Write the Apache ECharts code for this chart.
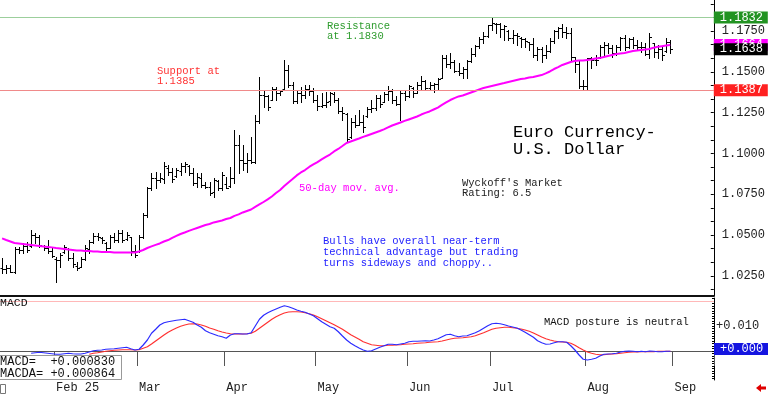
<!DOCTYPE html>
<html><head><meta charset="utf-8">
<script src="https://cdn.jsdelivr.net/npm/echarts@6/dist/echarts.min.js"></script>
<style>html,body{margin:0;padding:0;background:#fff}#c{width:768px;height:396px}</style>
</head><body><div id="c"></div>
<script>
const dates = [
'2025-01-15','2025-01-16','2025-01-17','2025-01-20','2025-01-21','2025-01-22','2025-01-23','2025-01-24','2025-01-27','2025-01-28','2025-01-29','2025-01-30','2025-01-31',
'2025-02-03','2025-02-04','2025-02-05','2025-02-06','2025-02-07','2025-02-10','2025-02-11','2025-02-12','2025-02-13','2025-02-14','2025-02-17','2025-02-18','2025-02-19','2025-02-20','2025-02-21','2025-02-24','2025-02-25','2025-02-26','2025-02-27','2025-02-28',
'2025-03-03','2025-03-04','2025-03-05','2025-03-06','2025-03-07','2025-03-10','2025-03-11','2025-03-12','2025-03-13','2025-03-14','2025-03-17','2025-03-18','2025-03-19','2025-03-20','2025-03-21','2025-03-24','2025-03-25','2025-03-26','2025-03-27','2025-03-28','2025-03-31',
'2025-04-01','2025-04-02','2025-04-03','2025-04-04','2025-04-07','2025-04-08','2025-04-09','2025-04-10','2025-04-11','2025-04-14','2025-04-15','2025-04-16','2025-04-17','2025-04-18','2025-04-21','2025-04-22','2025-04-23','2025-04-24','2025-04-25','2025-04-28','2025-04-29','2025-04-30',
'2025-05-01','2025-05-02','2025-05-05','2025-05-06','2025-05-07','2025-05-08','2025-05-09','2025-05-12','2025-05-13','2025-05-14','2025-05-15','2025-05-16','2025-05-19','2025-05-20','2025-05-21','2025-05-22','2025-05-23','2025-05-26','2025-05-27','2025-05-28','2025-05-29','2025-05-30',
'2025-06-02','2025-06-03','2025-06-04','2025-06-05','2025-06-06','2025-06-09','2025-06-10','2025-06-11','2025-06-12','2025-06-13','2025-06-16','2025-06-17','2025-06-18','2025-06-20','2025-06-23','2025-06-24','2025-06-25','2025-06-26','2025-06-27','2025-06-30',
'2025-07-01','2025-07-02','2025-07-03','2025-07-04','2025-07-07','2025-07-08','2025-07-09','2025-07-10','2025-07-11','2025-07-14','2025-07-15','2025-07-16','2025-07-17','2025-07-18','2025-07-21','2025-07-22','2025-07-23','2025-07-24','2025-07-25','2025-07-28','2025-07-29','2025-07-30','2025-07-31',
'2025-08-01','2025-08-04','2025-08-05','2025-08-06','2025-08-07','2025-08-08','2025-08-11','2025-08-12','2025-08-13','2025-08-14','2025-08-15','2025-08-18','2025-08-19','2025-08-20','2025-08-21','2025-08-22','2025-08-25','2025-08-26','2025-08-27','2025-08-28','2025-08-29',
'2025-09-01','2025-09-02','2025-09-03','2025-09-04','2025-09-05','2025-09-08','2025-09-09','2025-09-10','2025-09-11','2025-09-12'];

const monthLabels = {'02':'Feb 25','03':'Mar','04':'Apr','05':'May','06':'Jun','07':'Jul','08':'Aug','09':'Sep'};

const opens = [
1.0300,1.0290,1.0300,1.0275,1.0415,1.0405,1.0430,1.0430,1.0500,1.0490,
1.0430,1.0420,1.0400,1.0350,1.0345,1.0395,1.0415,1.0360,1.0310,1.0305,
1.0355,1.0415,1.0455,1.0495,1.0480,1.0450,1.0420,1.0490,1.0470,1.0510,
1.0475,1.0485,1.0400,1.0400,1.0485,1.0620,1.0785,1.0850,1.0835,1.0840,
1.0910,1.0885,1.0860,1.0890,1.0920,1.0920,1.0880,1.0820,1.0850,1.0805,
1.0795,1.0765,1.0830,1.0790,1.0815,1.0800,1.0850,1.1050,1.0960,1.0940,
1.0960,1.0950,1.1200,1.1360,1.1350,1.1330,1.1395,1.1370,1.1395,1.1510,
1.1420,1.1320,1.1370,1.1360,1.1395,1.1380,1.1330,1.1290,1.1295,1.1320,
1.1365,1.1330,1.1260,1.1240,1.1100,1.1190,1.1175,1.1190,1.1230,1.1270,
1.1280,1.1340,1.1315,1.1365,1.1385,1.1325,1.1300,1.1370,1.1350,1.1400,
1.1370,1.1420,1.1445,1.1400,1.1420,1.1425,1.1465,1.1585,1.1550,1.1560,
1.1505,1.1490,1.1520,1.1565,1.1610,1.1660,1.1700,1.1720,1.1785,1.1795,
1.1790,1.1760,1.1750,1.1710,1.1725,1.1710,1.1700,1.1680,1.1670,1.1600,
1.1640,1.1600,1.1625,1.1690,1.1750,1.1770,1.1745,1.1740,1.1590,1.1550,
1.1410,1.1415,1.1585,1.1570,1.1590,1.1655,1.1665,1.1645,1.1615,1.1650,
1.1705,1.1650,1.1700,1.1665,1.1650,1.1650,1.1610,1.1675,1.1620,1.1640,
1.1625,1.1680];
const highs = [
1.0359,1.0316,1.0316,1.0427,1.0427,1.0451,1.0457,1.0531,1.0512,1.0500,
1.0439,1.0469,1.0427,1.0365,1.0390,1.0439,1.0420,1.0390,1.0335,1.0365,
1.0439,1.0469,1.0512,1.0512,1.0488,1.0457,1.0500,1.0512,1.0531,1.0531,
1.0518,1.0488,1.0439,1.0500,1.0635,1.0794,1.0880,1.0886,1.0880,1.0947,
1.0929,1.0911,1.0911,1.0941,1.0947,1.0929,1.0911,1.0880,1.0880,1.0825,
1.0825,1.0849,1.0837,1.0886,1.0856,1.0917,1.1143,1.1113,1.1052,1.1003,
1.1101,1.1235,1.1468,1.1389,1.1358,1.1407,1.1407,1.1389,1.1572,1.1542,
1.1438,1.1389,1.1407,1.1419,1.1419,1.1401,1.1358,1.1370,1.1376,1.1376,
1.1376,1.1340,1.1284,1.1248,1.1217,1.1235,1.1266,1.1235,1.1284,1.1327,
1.1358,1.1358,1.1376,1.1413,1.1395,1.1352,1.1389,1.1389,1.1419,1.1407,
1.1438,1.1474,1.1450,1.1438,1.1431,1.1462,1.1603,1.1603,1.1615,1.1572,
1.1554,1.1529,1.1572,1.1646,1.1664,1.1713,1.1744,1.1787,1.1830,1.1799,
1.1799,1.1787,1.1756,1.1756,1.1738,1.1713,1.1707,1.1683,1.1707,1.1652,
1.1652,1.1664,1.1707,1.1756,1.1775,1.1793,1.1775,1.1768,1.1591,1.1572,
1.1450,1.1585,1.1591,1.1603,1.1664,1.1683,1.1677,1.1664,1.1664,1.1713,
1.1726,1.1707,1.1713,1.1695,1.1683,1.1677,1.1738,1.1677,1.1664,1.1652,
1.1707,1.1695];
const lows = [
1.0267,1.0267,1.0273,1.0267,1.0390,1.0390,1.0396,1.0427,1.0451,1.0427,
1.0408,1.0390,1.0365,1.0212,1.0304,1.0390,1.0347,1.0304,1.0286,1.0304,
1.0347,1.0390,1.0451,1.0469,1.0451,1.0408,1.0420,1.0457,1.0457,1.0457,
1.0469,1.0378,1.0365,1.0396,1.0482,1.0610,1.0776,1.0788,1.0825,1.0819,
1.0868,1.0825,1.0856,1.0868,1.0886,1.0868,1.0806,1.0794,1.0794,1.0788,
1.0745,1.0733,1.0776,1.0776,1.0788,1.0794,1.0819,1.0880,1.0898,1.0886,
1.0941,1.0941,1.1186,1.1284,1.1266,1.1327,1.1327,1.1358,1.1389,1.1407,
1.1309,1.1309,1.1315,1.1340,1.1358,1.1315,1.1266,1.1284,1.1284,1.1297,
1.1315,1.1248,1.1205,1.1070,1.1094,1.1162,1.1174,1.1131,1.1223,1.1254,
1.1266,1.1284,1.1315,1.1327,1.1309,1.1297,1.1205,1.1327,1.1346,1.1346,
1.1370,1.1389,1.1389,1.1389,1.1376,1.1389,1.1462,1.1529,1.1523,1.1499,
1.1480,1.1462,1.1462,1.1560,1.1597,1.1646,1.1677,1.1713,1.1756,1.1738,
1.1713,1.1695,1.1695,1.1677,1.1664,1.1652,1.1652,1.1634,1.1591,1.1572,
1.1560,1.1585,1.1621,1.1677,1.1707,1.1713,1.1707,1.1572,1.1499,1.1401,
1.1389,1.1389,1.1523,1.1542,1.1585,1.1603,1.1615,1.1591,1.1603,1.1634,
1.1634,1.1646,1.1646,1.1634,1.1621,1.1603,1.1585,1.1591,1.1585,1.1572,
1.1621,1.1615];
const closes = [
1.0290,1.0300,1.0275,1.0415,1.0405,1.0435,1.0410,1.0500,1.0490,1.0440,
1.0420,1.0400,1.0370,1.0345,1.0375,1.0425,1.0360,1.0320,1.0300,1.0355,
1.0420,1.0455,1.0495,1.0485,1.0470,1.0420,1.0490,1.0470,1.0510,1.0470,
1.0500,1.0400,1.0375,1.0485,1.0620,1.0785,1.0850,1.0835,1.0850,1.0920,
1.0885,1.0840,1.0900,1.0920,1.0935,1.0880,1.0820,1.0855,1.0805,1.0795,
1.0760,1.0835,1.0790,1.0870,1.0790,1.0850,1.1050,1.0960,1.0940,1.0960,
1.0950,1.1200,1.1360,1.1350,1.1285,1.1395,1.1370,1.1380,1.1510,1.1420,
1.1320,1.1370,1.1355,1.1395,1.1380,1.1330,1.1290,1.1295,1.1315,1.1370,
1.1330,1.1260,1.1250,1.1090,1.1190,1.1175,1.1190,1.1160,1.1270,1.1280,
1.1340,1.1300,1.1365,1.1385,1.1325,1.1300,1.1370,1.1350,1.1410,1.1370,
1.1420,1.1445,1.1400,1.1420,1.1425,1.1455,1.1585,1.1550,1.1560,1.1505,
1.1490,1.1520,1.1565,1.1610,1.1660,1.1700,1.1720,1.1785,1.1800,1.1790,
1.1760,1.1780,1.1710,1.1725,1.1720,1.1700,1.1690,1.1670,1.1600,1.1640,
1.1600,1.1625,1.1690,1.1750,1.1770,1.1745,1.1740,1.1590,1.1550,1.1410,
1.1415,1.1585,1.1570,1.1575,1.1655,1.1665,1.1645,1.1615,1.1650,1.1705,
1.1650,1.1700,1.1665,1.1650,1.1650,1.1610,1.1715,1.1620,1.1640,1.1600,
1.1680,1.1638];

const ma50 = [
1.0479,1.0469,1.0460,1.0451,1.0448,1.0445,1.0442,1.0439,1.0436,1.0433,
1.0430,1.0427,1.0424,1.0420,1.0417,1.0414,1.0411,1.0408,1.0405,1.0405,
1.0402,1.0402,1.0399,1.0399,1.0396,1.0396,1.0396,1.0393,1.0393,1.0393,
1.0393,1.0393,1.0393,1.0399,1.0408,1.0420,1.0430,1.0439,1.0448,1.0460,
1.0469,1.0482,1.0494,1.0506,1.0515,1.0525,1.0534,1.0543,1.0552,1.0561,
1.0567,1.0577,1.0583,1.0589,1.0598,1.0604,1.0617,1.0626,1.0638,1.0647,
1.0656,1.0672,1.0687,1.0702,1.0718,1.0736,1.0757,1.0776,1.0800,1.0822,
1.0843,1.0865,1.0883,1.0898,1.0917,1.0932,1.0947,1.0963,1.0978,1.0993,
1.1012,1.1027,1.1045,1.1064,1.1073,1.1082,1.1091,1.1101,1.1110,1.1119,
1.1128,1.1137,1.1147,1.1159,1.1171,1.1180,1.1189,1.1199,1.1208,1.1217,
1.1226,1.1238,1.1248,1.1257,1.1269,1.1281,1.1297,1.1312,1.1327,1.1339,
1.1349,1.1355,1.1364,1.1373,1.1382,1.1392,1.1401,1.1407,1.1413,1.1419,
1.1425,1.1431,1.1438,1.1444,1.1450,1.1456,1.1459,1.1465,1.1468,1.1474,
1.1480,1.1490,1.1502,1.1517,1.1529,1.1542,1.1551,1.1560,1.1566,1.1569,
1.1569,1.1572,1.1575,1.1582,1.1585,1.1591,1.1597,1.1603,1.1609,1.1612,
1.1615,1.1621,1.1627,1.1631,1.1634,1.1637,1.1640,1.1648,1.1653,1.1657,
1.1661,1.1664];

const macdLine = [null,null,null,null,null,null,null,
-0.0009,-0.0007,-0.0005,
-0.0007,-0.0009,-0.0011,-0.0013,-0.0013,-0.0011,-0.0009,-0.0011,-0.0012,-0.0012,
-0.0009,-0.0004,0.0001,0.0003,0.0004,0.0007,0.0008,0.0009,0.0011,0.0013,
0.0015,0.0009,0.0004,0.0007,0.0024,0.0044,0.0071,0.0087,0.0104,0.0113,
0.0117,0.0120,0.0123,0.0125,0.0127,0.0121,0.0115,0.0104,0.0095,0.0081,
0.0073,0.0067,0.0061,0.0057,0.0051,0.0064,0.0069,0.0069,0.0068,0.0068,
0.0073,0.0100,0.0127,0.0143,0.0153,0.0161,0.0168,0.0175,0.0181,0.0177,
0.0171,0.0164,0.0159,0.0155,0.0148,0.0141,0.0129,0.0117,0.0107,0.0097,
0.0091,0.0077,0.0060,0.0044,0.0031,0.0021,0.0012,0.0004,-0.0001,0.0001,
0.0008,0.0015,0.0021,0.0027,0.0027,0.0025,0.0028,0.0031,0.0037,0.0039,
0.0039,0.0040,0.0041,0.0040,0.0044,0.0049,0.0057,0.0065,0.0067,0.0061,
0.0057,0.0060,0.0061,0.0067,0.0073,0.0081,0.0091,0.0101,0.0109,0.0111,
0.0109,0.0105,0.0100,0.0096,0.0092,0.0084,0.0075,0.0065,0.0055,0.0041,
0.0033,0.0027,0.0028,0.0033,0.0037,0.0037,0.0035,0.0021,0.0004,-0.0016,
-0.0033,-0.0036,-0.0033,-0.0029,-0.0020,-0.0013,-0.0012,-0.0011,-0.0009,-0.0004,
-0.0001,0.0000,-0.0001,-0.0003,-0.0001,-0.0003,0.0000,-0.0001,-0.0003,-0.0003,
-0.0001,-0.0001];

const macdSignal = [null,null,null,null,null,null,null,null,null,null,
null,null,null,null,null,null,null,null,null,null,null,
-0.0013,-0.0009,-0.0007,-0.0004,-0.0001,0.0001,0.0003,0.0004,0.0005,
0.0005,0.0005,0.0004,0.0005,0.0011,0.0017,0.0028,0.0040,0.0052,0.0064,
0.0075,0.0084,0.0092,0.0099,0.0104,0.0108,0.0109,0.0108,0.0104,0.0099,
0.0092,0.0087,0.0081,0.0076,0.0072,0.0069,0.0068,0.0068,0.0068,0.0069,
0.0071,0.0079,0.0091,0.0103,0.0115,0.0127,0.0137,0.0145,0.0152,0.0156,
0.0157,0.0157,0.0156,0.0153,0.0149,0.0144,0.0137,0.0129,0.0121,0.0113,
0.0105,0.0096,0.0087,0.0076,0.0065,0.0056,0.0047,0.0037,0.0031,0.0025,
0.0023,0.0021,0.0021,0.0023,0.0023,0.0024,0.0025,0.0027,0.0028,0.0029,
0.0031,0.0032,0.0033,0.0035,0.0036,0.0037,0.0040,0.0044,0.0048,0.0051,
0.0052,0.0053,0.0055,0.0057,0.0061,0.0067,0.0073,0.0080,0.0087,0.0091,
0.0093,0.0095,0.0095,0.0093,0.0091,0.0088,0.0084,0.0079,0.0072,0.0064,
0.0056,0.0049,0.0044,0.0040,0.0037,0.0036,0.0035,0.0031,0.0023,0.0013,
0.0004,-0.0004,-0.0009,-0.0013,-0.0015,-0.0015,-0.0013,-0.0012,-0.0011,-0.0009,
-0.0007,-0.0005,-0.0004,-0.0004,-0.0003,-0.0003,-0.0003,-0.0003,-0.0001,-0.0001,
-0.0001,-0.0001];

const priceTickLabels = [1.025, 1.050, 1.075, 1.100, 1.125, 1.150, 1.175];
const macdTickLabels = [0.010];
const resistanceLevel = 1.1832;
const supportLevel = 1.1387;
const macdNow = 0.000830;
const macdaNow = 0.000864;

const FONT = '"Liberation Mono","DejaVu Sans Mono",monospace';

// minor tick positions (styling only)
const priceMinorTicks = [];
for (let k = -1; k <= 21; k++) priceMinorTicks.push(1.025 + k * 0.025 / 3);
const macdMinorTicks = [];
for (let k = -11; k <= 21; k++) macdMinorTicks.push(k / 1000);

const isMonthStart = (i) => i > 0 && dates[i].slice(5, 7) !== dates[i - 1].slice(5, 7);

const ohlcData = opens.map((o, i) => [i, o, highs[i], lows[i], closes[i]]);

function renderOHLC(params, api) {
  const i = api.value(0);
  const pO = api.coord([i, api.value(1)]);
  const pH = api.coord([i, api.value(2)]);
  const pL = api.coord([i, api.value(3)]);
  const pC = api.coord([i, api.value(4)]);
  const x = Math.round(pO[0]) + 0.5;
  const yo = Math.round(pO[1]) + 0.5;
  const yc = Math.round(pC[1]) + 0.5;
  const st = { stroke: '#000', lineWidth: 1 };
  return {
    type: 'group',
    children: [
      { type: 'line', shape: { x1: x, y1: Math.round(pH[1]), x2: x, y2: Math.round(pL[1]) + 1 }, style: st },
      { type: 'line', shape: { x1: x - 2, y1: yo, x2: x, y2: yo }, style: st },
      { type: 'line', shape: { x1: x, y1: yc, x2: x + 2.5, y2: yc }, style: st }
    ]
  };
}

function tagLabel(text, bg) {
  return {
    show: true, position: 'end', distance: 0,
    formatter: text, color: '#fff', backgroundColor: bg,
    padding: [1, 6, 0, 6], width: 42, lineHeight: 11,
    fontFamily: FONT, fontSize: 12
  };
}
const hiddenLine = { color: 'rgba(0,0,0,0)', width: 0 };

const lastClose = closes[closes.length - 1];
const lastMa = ma50[ma50.length - 1];

const option = {
  animation: false,
  backgroundColor: '#fff',
  grid: [
    { left: 0, top: 0, width: 714, height: 296 },
    { left: 0, top: 298, width: 714, height: 82 }
  ],
  xAxis: [
    { type: 'category', gridIndex: 0, data: dates, boundaryGap: true,
      axisLine: { show: true, lineStyle: { color: '#111', width: 2 } },
      axisTick: { show: false }, axisLabel: { show: false }, splitLine: { show: false } },
    { type: 'category', gridIndex: 1, data: dates, boundaryGap: true,
      axisLine: { show: true, lineStyle: { color: '#555', width: 1 } },
      axisTick: { show: true, interval: (i) => isMonthStart(i), length: 15, lineStyle: { color: '#555' } },
      axisLabel: { show: true, interval: (i) => isMonthStart(i), formatter: (v) => monthLabels[v.slice(5, 7)] || '',
        align: 'left', margin: 2, color: '#222', fontFamily: FONT, fontSize: 12 },
      splitLine: { show: false } }
  ],
  yAxis: [
    { type: 'value', gridIndex: 0, position: 'right', min: 1.0126, max: 1.1940,
      axisLine: { show: true, lineStyle: { color: '#000', width: 1 } },
      axisTick: { show: true, inside: true, length: 3, customValues: priceMinorTicks, lineStyle: { color: '#000' } },
      axisLabel: { show: true, customValues: priceTickLabels, formatter: (v) => v.toFixed(4),
        margin: 8, color: '#222', fontFamily: FONT, fontSize: 12 },
      splitLine: { show: false } },
    { type: 'value', gridIndex: 1, position: 'right', min: -0.0116, max: 0.0212,
      axisLine: { show: true, lineStyle: { color: '#000', width: 1 } },
      axisTick: { show: true, inside: true, length: 2, customValues: macdMinorTicks, lineStyle: { color: '#000' } },
      axisLabel: { show: true, customValues: macdTickLabels, formatter: (v) => '+' + v.toFixed(3),
        margin: 2, color: '#222', fontFamily: FONT, fontSize: 12 },
      splitLine: { show: false } }
  ],
  series: [
    { type: 'custom', name: 'EURUSD', xAxisIndex: 0, yAxisIndex: 0, data: ohlcData,
      renderItem: renderOHLC, encode: { x: 0, y: [1, 2, 3, 4] }, z: 2, silent: true },
    { type: 'line', name: '50-day', xAxisIndex: 0, yAxisIndex: 0, data: ma50, z: 3,
      showSymbol: false, symbol: 'none', lineStyle: { color: '#ff00ff', width: 2 }, silent: true,
      markLine: { silent: true, symbol: ['none', 'none'], animation: false, precision: 6,
        data: [
          { yAxis: resistanceLevel, lineStyle: { color: '#9ccf9c', width: 1, type: 'solid' }, label: tagLabel(resistanceLevel.toFixed(4), '#229322') },
          { yAxis: supportLevel, lineStyle: { color: '#f08a8a', width: 1, type: 'solid' }, label: tagLabel(supportLevel.toFixed(4), '#ff2020') },
          { yAxis: lastMa, lineStyle: hiddenLine, label: tagLabel(lastMa.toFixed(4), '#ff00ff') },
          { yAxis: lastClose, lineStyle: hiddenLine, label: tagLabel(lastClose.toFixed(4), '#000') }
        ] } },
    { type: 'line', name: 'MACD', xAxisIndex: 1, yAxisIndex: 1, data: macdLine, z: 3,
      showSymbol: false, symbol: 'none', lineStyle: { color: '#2b2bff', width: 1.2 }, silent: true,
      markLine: { silent: true, symbol: ['none', 'none'], animation: false, precision: 8,
        data: [
          { yAxis: 0.020, lineStyle: { color: '#ffb8b8', width: 1, type: 'solid' }, label: { show: false } },
          { yAxis: macdNow, lineStyle: hiddenLine, label: tagLabel('+' + (Math.trunc(macdNow * 1000) / 1000).toFixed(3), '#1414e0') }
        ] } },
    { type: 'line', name: 'MACDA', xAxisIndex: 1, yAxisIndex: 1, data: macdSignal, z: 2,
      showSymbol: false, symbol: 'none', lineStyle: { color: '#ff3030', width: 1.2 }, silent: true }
  ],
  graphic: [
    { type: 'text', left: 327, top: 21, z: 100, style: { text: 'Resistance\nat 1.1830', fill: '#2e9c2e', fontFamily: FONT, fontSize: 10.5, lineHeight: 10 } },
    { type: 'text', left: 157, top: 66, z: 100, style: { text: 'Support at\n1.1385', fill: '#ff3333', fontFamily: FONT, fontSize: 10.5, lineHeight: 10 } },
    { type: 'text', left: 513, top: 124, z: 100, style: { text: 'Euro Currency-\nU.S. Dollar', fill: '#000', fontFamily: FONT, fontSize: 17, lineHeight: 17 } },
    { type: 'text', left: 462, top: 178, z: 100, style: { text: "Wyckoff's Market\nRating: 6.5", fill: '#222', fontFamily: FONT, fontSize: 10.5, lineHeight: 10 } },
    { type: 'text', left: 299, top: 183, z: 100, style: { text: '50-day mov. avg.', fill: '#ff00ff', fontFamily: FONT, fontSize: 10.5, lineHeight: 10 } },
    { type: 'text', left: 323, top: 235.5, z: 100, style: { text: 'Bulls have overall near-term\ntechnical advantage but trading\nturns sideways and choppy..', fill: '#2323ff', fontFamily: FONT, fontSize: 10.5, lineHeight: 11 } },
    { type: 'text', left: 544, top: 317, z: 100, style: { text: 'MACD posture is neutral', fill: '#111', fontFamily: FONT, fontSize: 10.5, lineHeight: 10 } },
    { type: 'text', left: 0, top: 297, z: 100, style: { text: 'MACD', fill: '#111', fontFamily: FONT, fontSize: 11.5, lineHeight: 12 } },
    { type: 'rect', z: 100, shape: { x: -1, y: 355.5, width: 122.5, height: 24 }, style: { fill: '#fff', stroke: '#999', lineWidth: 1 } },
    { type: 'text', left: 0, top: 356, z: 101, style: { text: 'MACD=  +' + macdNow.toFixed(6) + '\nMACDA= +' + macdaNow.toFixed(6), fill: '#111', fontFamily: FONT, fontSize: 12, lineHeight: 12 } },
    { type: 'rect', z: 100, shape: { x: 0.5, y: 384.5, width: 5, height: 9 }, style: { fill: '#fff', stroke: '#777', lineWidth: 1 } },
    { type: 'polygon', z: 100, shape: { points: [[756, 388], [761, 384], [761, 386.5], [766, 386.5], [766, 389.5], [761, 389.5], [761, 392]] }, style: { fill: '#e00000' } }
  ]
};

const chart = echarts.init(document.getElementById('c'), null, { renderer: 'canvas', width: 768, height: 396 });
chart.setOption(option);
</script>
</body></html>
